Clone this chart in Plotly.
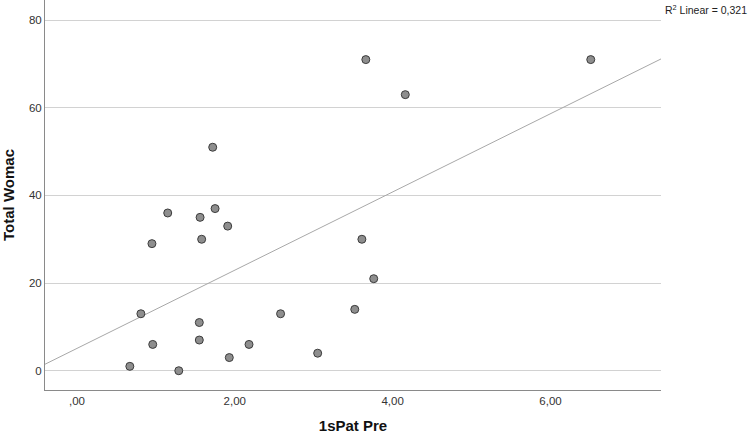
import numpy as np
import plotly.graph_objects as go

# 1sPat Pre vs Total Womac
pat_pre = [0.67, 0.81, 0.95, 0.96, 1.15, 1.29, 1.55, 1.55, 1.56, 1.58, 1.72, 1.75,
           1.91, 1.93, 2.18, 2.58, 3.05, 3.52, 3.61, 3.66, 3.76, 4.16, 6.51]
womac = [1, 13, 29, 6, 36, 0, 11, 7, 35, 30, 51, 37,
         33, 3, 6, 13, 4, 14, 30, 71, 21, 63, 71]

x_ticks = [0, 2, 4, 6]
x_tick_text = [",00", "2,00", "4,00", "6,00"]
y_ticks = [0, 20, 40, 60, 80]
r2_label = "R<sup>2</sup> Linear = 0,321"

x_range = [-0.405, 7.40]
y_range = [-4.4, 84.6]

slope, intercept = np.polyfit(pat_pre, womac, 1)
fit_x = np.array(x_range)
fit_y = intercept + slope * fit_x

fig = go.Figure()
fig.add_scatter(
    x=fit_x, y=fit_y, mode="lines",
    line=dict(color="#a8a8a8", width=1), hoverinfo="skip",
)
fig.add_scatter(
    x=pat_pre, y=womac, mode="markers",
    marker=dict(size=8, color="#8e8e8e", line=dict(color="#3c3c3c", width=1)),
)
fig.add_annotation(
    text=r2_label, xref="paper", yref="paper", x=1, y=1,
    xanchor="left", yanchor="top", xshift=2, yshift=-1, showarrow=False,
    font=dict(size=10.5, color="#222222"),
)

font = "Liberation Sans, Arial, sans-serif"
fig.update_layout(
    width=749, height=434,
    margin=dict(l=45, r=88, t=0, b=44),
    plot_bgcolor="white", paper_bgcolor="white",
    showlegend=False,
    font=dict(family=font, size=11.5, color="#333333"),
    xaxis=dict(
        range=x_range, tickvals=x_ticks, ticktext=x_tick_text,
        showgrid=False, zeroline=False, showline=True,
        linecolor="#8a8a8a", linewidth=1, ticks="",
        title=dict(text="<b>1sPat Pre</b>", font=dict(size=15, color="#111111"), standoff=14),
    ),
    yaxis=dict(
        range=y_range, tickvals=y_ticks,
        showgrid=True, gridcolor="#d2d2d2", gridwidth=1.3,
        zeroline=False, showline=True,
        linecolor="#8a8a8a", linewidth=1, ticks="",
        title=dict(text="<b>Total Womac</b>", font=dict(size=15, color="#111111"), standoff=12),
    ),
)

fig.write_html(
    "out.html",
    config={"displayModeBar": False},
    post_script="document.body.style.margin='0';",
)
